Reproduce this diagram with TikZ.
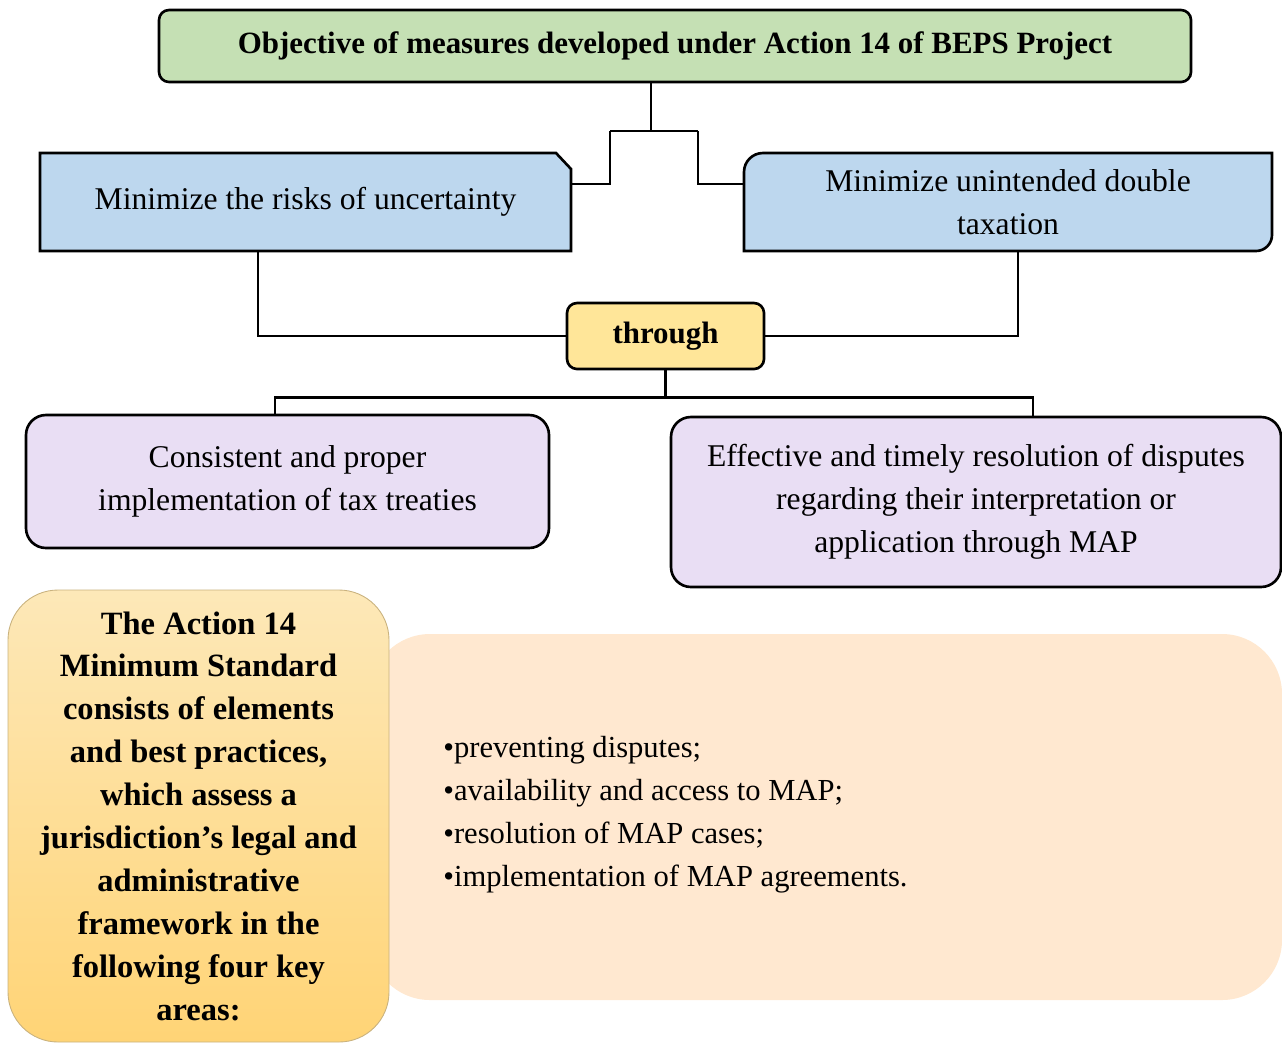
\documentclass[tikz,border=0pt]{standalone}
\usepackage{fontspec}
\setmainfont{Liberation Serif}
\usetikzlibrary{backgrounds}

\definecolor{objgreen}{HTML}{C5E0B4}
\definecolor{aimblue}{HTML}{BDD7EE}
\definecolor{thryellow}{HTML}{FFE699}
\definecolor{waylilac}{HTML}{E9DEF4}
\definecolor{areapeach}{HTML}{FFE8D0}
\definecolor{stdtop}{HTML}{FDE8B8}
\definecolor{stdbot}{HTML}{FFD476}
\definecolor{stdedge}{HTML}{C9B27E}

\newcommand{\boxfont}{\fontsize{18}{24.5}\selectfont}
\newcommand{\headfont}{\fontsize{17.6}{24.5}\selectfont\bfseries}
\newcommand{\stdfont}{\fontsize{18.5}{24.4}\selectfont\bfseries}
\newcommand{\areafont}{\fontsize{17.4}{24.5}\selectfont}

\begin{document}
\begin{tikzpicture}[
    box/.style={rectangle, draw=black, line width=1.5pt, align=center, font=\boxfont, inner sep=3pt},
    aim/.style={rectangle, align=center, font=\boxfont, inner sep=0pt, outer sep=0pt, minimum width=#1, minimum height=1.96cm},
    outline/.style={draw=black, line width=1.5pt, fill=aimblue},
    link/.style={draw=black, line width=1.5pt}
]
\useasboundingbox (0,0) rectangle (25.64,-20.86);

% Nodes
\node[box, fill=objgreen, rounded corners=2mm, minimum width=20.64cm, minimum height=1.44cm, font=\headfont]
    (objective) at (13.5,-0.92) {Objective of measures developed under Action 14 of BEPS Project};

\node[aim=10.62cm] (risks) at (6.11,-4.04) {Minimize the risks of uncertainty};
\node[aim=10.56cm] (dtax)  at (20.16,-4.04) {Minimize unintended double\\taxation};

\node[box, fill=thryellow, rounded corners=2mm, minimum width=3.94cm, minimum height=1.32cm, font=\headfont]
    (through) at (13.31,-6.72) {through};

\node[box, fill=waylilac, rounded corners=4mm, minimum width=10.46cm, minimum height=2.66cm]
    (treaties) at (5.75,-9.63) {Consistent and proper\\implementation of tax treaties};
\node[box, fill=waylilac, rounded corners=4mm, minimum width=12.2cm, minimum height=3.4cm]
    (disputes) at (19.52,-10.04) {Effective and timely resolution of disputes\\regarding their interpretation or\\application through MAP};

% Key areas panel
\fill[areapeach, rounded corners=1.2cm] (7.4,-12.68) rectangle (25.64,-20.0);
\node[rectangle, draw=stdedge, line width=0.5pt, top color=stdtop, bottom color=stdbot, rounded corners=1cm,
      minimum width=7.62cm, minimum height=9.04cm, align=center, font=\stdfont]
    (standard) at (3.97,-16.32) {The Action 14\\Minimum Standard\\consists of elements\\and best practices,\\which assess a\\jurisdiction’s legal and\\administrative\\framework in the\\following four key\\areas:};
\node[anchor=west, align=left, font=\areafont, inner sep=0pt] (areas) at (8.86,-16.29)
    {•preventing disputes;\\•availability and access to MAP;\\•resolution of MAP cases;\\•implementation of MAP agreements.};

% Outlines of the two aims
\begin{scope}[on background layer]
\draw[outline] (risks.south west) -- (risks.north west) -- ([xshift=-0.3cm]risks.north east)
    -- ([yshift=-0.32cm]risks.north east) -- (risks.south east) -- cycle;
\draw[outline] (dtax.north east) -- ([xshift=0.38cm]dtax.north west) arc[start angle=90, end angle=180, radius=0.38cm]
    -- (dtax.south west) -- ([xshift=-0.32cm]dtax.south east) arc[start angle=270, end angle=360, radius=0.32cm] -- cycle;
\end{scope}

% Connections from objective to aims
\coordinate (fork)  at (13.02,-2.62);
\coordinate (forkl) at (12.2,-2.62);
\coordinate (forkr) at (13.96,-2.62);
\draw[link] (objective.south -| fork) -- (fork);
\draw[link] (forkl) -- (forkr);
\draw[link] (forkl) |- ([yshift=0.36cm]risks.east);
\draw[link] (forkr) |- ([yshift=0.36cm]dtax.west);

% Connections from aims to through
\draw[link] ([xshift=-0.95cm]risks.south) |- (through.west);
\draw[link] ([xshift=0.2cm]dtax.south) |- (through.east);

% Connections from through to ways
\coordinate (split) at ([yshift=-0.54cm]through.south);
\draw[link] (through.south) -- (split);
\draw[link] ([xshift=-0.25cm]treaties.north) |- (split) -| ([xshift=1.14cm]disputes.north);

\end{tikzpicture}
\end{document}
